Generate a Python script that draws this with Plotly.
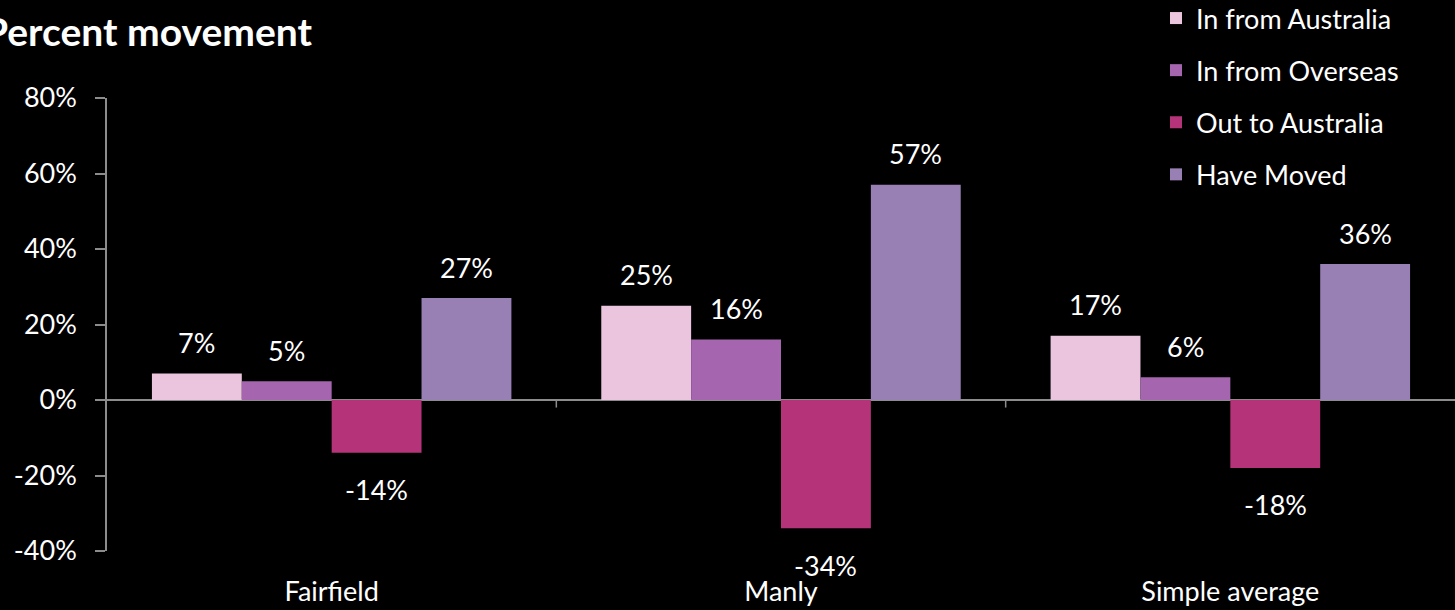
import plotly.graph_objects as go

categories = ["Fairfield", "Manly", "Simple average"]
series_names = ["In from Australia", "In from Overseas", "Out to Australia", "Have Moved"]
in_from_australia = [7, 25, 17]
in_from_overseas = [5, 16, 6]
out_to_australia = [-14, -34, -18]
have_moved = [27, 57, 36]
y_ticks = [-40, -20, 0, 20, 40, 60, 80]

series_values = [in_from_australia, in_from_overseas, out_to_australia, have_moved]
colors = ["#EBC4DE", "#A566AF", "#B53479", "#9880B5"]

FONT = "Lato"
FS = 27
fig = go.Figure()
xs = list(range(len(categories)))
for name, vals, col in zip(series_names, series_values, colors):
    fig.add_trace(go.Bar(
        x=xs, y=vals, name=name, marker=dict(color=col, line=dict(width=0)),
        legendgroup=name,
    ))

# data labels
n = len(series_names)
bw = 0.8 / n
for j, vals in enumerate(series_values):
    for i, v in enumerate(vals):
        fig.add_annotation(
            x=i + (j - (n - 1) / 2) * bw, y=v, text=f"{v}%", showarrow=False,
            yshift=31 if v >= 0 else -37, yanchor="middle",
            font=dict(family=FONT, size=FS, color="white"),
        )

# category boundary ticks on the zero line
for b in [0.5, 1.5]:
    fig.add_shape(type="line", x0=b, x1=b, y0=0, y1=-2, xref="x", yref="y",
                  line=dict(color="#8c8c8c", width=1.5))

fig.add_annotation(text="<b>Percent movement</b>", xref="paper", yref="paper",
                   x=(314 - 107) / 1348, xanchor="right", y=1 + 67 / 453, yanchor="middle",
                   showarrow=False, font=dict(family=FONT, size=39, color="white"))

fig.update_layout(
    width=1455, height=610,
    paper_bgcolor="black", plot_bgcolor="black",
    margin=dict(l=107, r=0, t=98, b=59, autoexpand=False),
    barmode="group", bargap=0.2, bargroupgap=0,
    showlegend=True,
    legend=dict(xref="container", yref="paper", x=1156 / 1455, y=1 + 104 / 453,
                xanchor="left", yanchor="top", tracegroupgap=14,
                font=dict(family=FONT, size=FS, color="white"),
                bgcolor="rgba(0,0,0,0)", itemwidth=30),
    font=dict(family=FONT, color="white"),
    xaxis=dict(tickvals=xs, ticktext=categories, range=[-0.5, 2.5], showgrid=False,
               zeroline=False, showline=False, ticks="", tickfont=dict(size=FS, family=FONT, color="white"),
               ticklabelstandoff=22),
    yaxis=dict(range=[-40, 80], tickvals=y_ticks, ticktext=[f"{t}%" for t in y_ticks],
               showgrid=False, zeroline=True, zerolinecolor="#8c8c8c", zerolinewidth=2,
               showline=True, linecolor="#8c8c8c", linewidth=1.5, ticks="outside", ticklen=10,
               tickcolor="#8c8c8c", tickwidth=1.5,
               tickfont=dict(size=FS, family=FONT, color="white"), ticklabelstandoff=13),
)
fig.write_html("out.html", config={"displayModeBar": False},
               post_script="document.body.style.margin='0';")
